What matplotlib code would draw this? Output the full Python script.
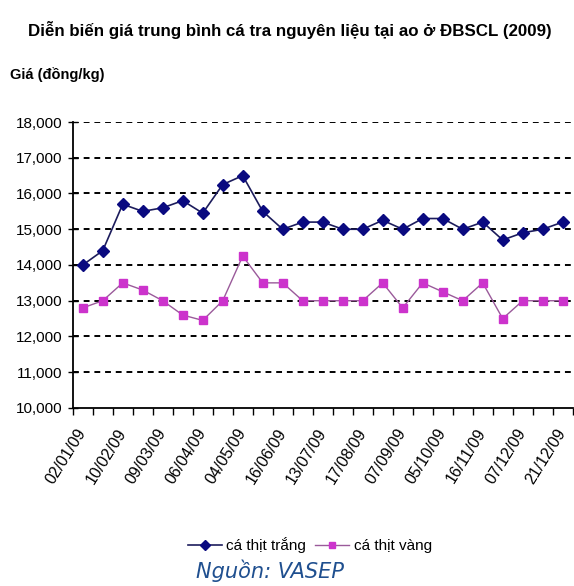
import matplotlib.pyplot as plt
import numpy as np

narrow = ['Liberation Sans Narrow', 'Liberation Sans', 'DejaVu Sans']

dates = ['02/01/09', '', '10/02/09', '', '09/03/09', '', '06/04/09', '',
         '04/05/09', '', '16/06/09', '', '13/07/09', '', '17/08/09', '',
         '07/09/09', '', '05/10/09', '', '16/11/09', '', '07/12/09', '',
         '21/12/09']
thit_trang = [14000, 14400, 15700, 15500, 15600, 15800, 15450, 16250, 16500,
              15500, 15000, 15200, 15200, 15000, 15000, 15250, 15000, 15300,
              15300, 15000, 15200, 14700, 14900, 15000, 15200]
thit_vang = [12800, 13000, 13500, 13300, 13000, 12600, 12450, 13000, 14250,
             13500, 13500, 13000, 13000, 13000, 13000, 13500, 12800, 13500,
             13250, 13000, 13500, 12500, 13000, 13000, 13000]
y_ticks = [10000, 11000, 12000, 13000, 14000, 15000, 16000, 17000, 18000]

fig = plt.figure(figsize=(5.74, 5.86), dpi=100)
ax = fig.add_axes([0.1267, 0.3038, 0.871, 0.488])

x = np.arange(len(thit_trang))

# luoi ngang net dut
for v in y_ticks[1:]:
    ax.axhline(v, color='black', linestyle=(0, (3, 2.5)), linewidth=1.4, zorder=1)

ax.plot(x, thit_trang, color='#1c1c5c', linewidth=1.2, marker='D', markersize=6,
        markerfacecolor='#0a0a80', markeredgecolor='#0a0a80', label='cá thịt trắng', zorder=3)
ax.plot(x, thit_vang, color='#9a5a9a', linewidth=1.0, marker='s', markersize=6,
        markerfacecolor='#cc33cc', markeredgecolor='#cc33cc', label='cá thịt vàng', zorder=3)

ax.set_xlim(-0.5, len(x) - 0.5)
ax.set_ylim(10000, 18000)
ax.set_yticks(y_ticks)
ax.set_yticklabels(['{:,}'.format(v) for v in y_ticks], family=narrow, fontsize=11)

ax.set_xticks(x)
ax.set_xticklabels(dates, rotation=58, ha='right', va='center', rotation_mode='anchor',
                   family=narrow, fontsize=11.5)
ax.tick_params(axis='x', which='major', length=0, pad=16)
ax.set_xticks(np.arange(-0.5, len(x), 1), minor=True)
ax.tick_params(axis='x', which='minor', length=5, width=1, direction='out')
ax.tick_params(axis='y', length=7, width=1, direction='inout', pad=4)

for s in ['top', 'right']:
    ax.spines[s].set_visible(False)
ax.spines['left'].set_linewidth(1.3)
ax.spines['bottom'].set_linewidth(1.3)

fig.text(0.505, 0.948, 'Diễn biến giá trung bình cá tra nguyên liệu tại ao ở ĐBSCL (2009)',
         ha='center', va='center', family=narrow, fontsize=12.2, fontweight='bold')
fig.text(0.017, 0.872, 'Giá (đồng/kg)', ha='left', va='center', family=narrow,
         fontsize=10.5, fontweight='bold')

leg = fig.legend(loc='center', bbox_to_anchor=(0.54, 0.07), ncol=2, frameon=False,
                 prop={'family': narrow, 'size': 11}, handlelength=2.2,
                 columnspacing=0.6, handletextpad=0.3, markerscale=0.8)

fig.text(0.47, 0.026, 'Nguồn: VASEP', ha='center', va='center', style='italic',
         color='#1f4f8f', fontsize=15)

fig.savefig('out.png', dpi=100, facecolor='white')
